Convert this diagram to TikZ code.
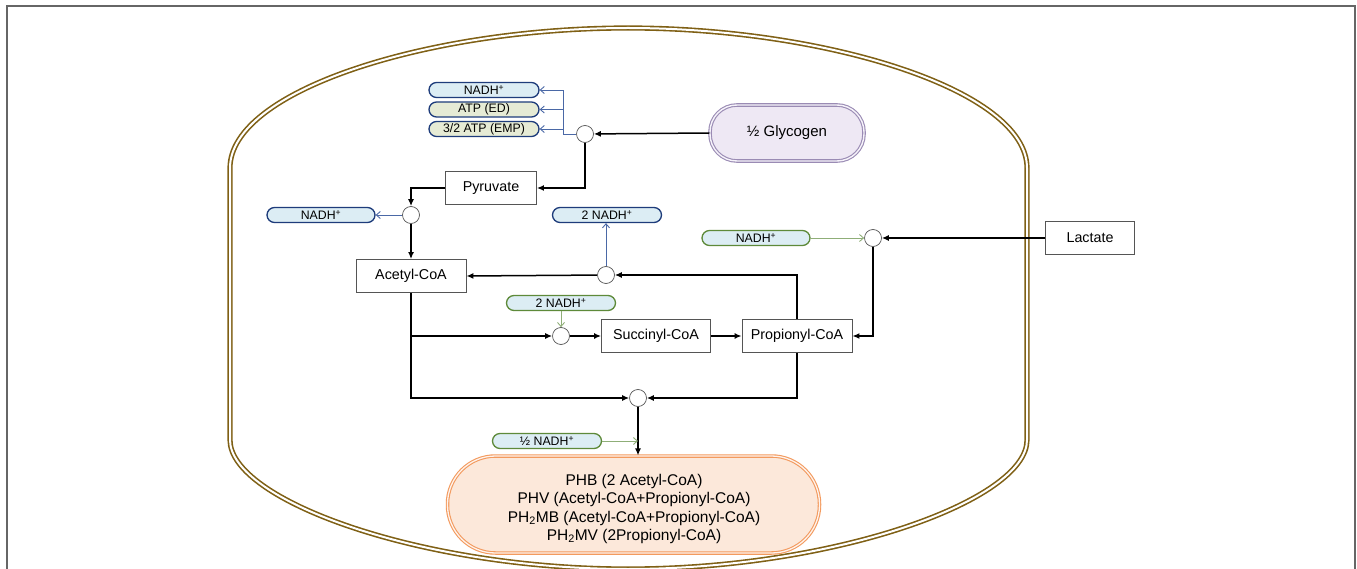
\documentclass[tikz,border=0pt]{standalone}
\usepackage{fontspec}
\setmainfont{Liberation Sans}
\usetikzlibrary{arrows.meta}
\definecolor{cellbrown}{HTML}{7F6015}
\definecolor{boxgray}{HTML}{555555}
\definecolor{pillblue}{HTML}{DCEDF4}
\definecolor{pillkhaki}{HTML}{E6EBD5}
\definecolor{navy}{HTML}{1E3C7B}
\definecolor{leaf}{HTML}{5E8A3A}
\definecolor{slate}{HTML}{4A68A6}
\definecolor{sage}{HTML}{8FAE78}
\definecolor{lav}{HTML}{EEE8F4}
\definecolor{lavline}{HTML}{9A8BB4}
\definecolor{peach}{HTML}{FCE8DA}
\definecolor{orng}{HTML}{F39A5E}
\tikzset{
  stepbox/.style={draw=boxgray, fill=white, line width=0.8pt, inner sep=0pt,
    minimum height=33pt, font=\fontsize{14.3}{16}\selectfont},
  pill/.style={rounded corners=7.5pt, line width=1.3pt, inner sep=0pt,
    minimum height=15pt, font=\fontsize{12.3}{13}\selectfont},
  bpill/.style={pill, draw=navy, fill=pillblue},
  kpill/.style={pill, draw=navy, fill=pillkhaki},
  gpill/.style={pill, draw=leaf, fill=pillblue},
  junc/.style={circle, draw=boxgray, fill=white, line width=0.7pt, minimum size=17pt, inner sep=0pt},
  arr/.style={line width=1.5pt, -{Latex[length=7pt,width=6pt]}},
  barr/.style={draw=slate, line width=0.9pt, -{Straight Barb[length=4pt,width=7pt]}},
  bline/.style={draw=slate, line width=0.9pt},
  garr/.style={draw=sage, line width=0.9pt, -{Straight Barb[length=4pt,width=7pt]}},
}
\begin{document}
\begin{tikzpicture}[x=1pt,y=-1pt]
\useasboundingbox (0,0) rectangle (1357,569);
% frame
\draw[draw=gray!80!black, line width=1.6pt] (7,580) -- (7,6) -- (1355,6) -- (1355,580);
% cell
\draw[draw=cellbrown, line width=1.6pt, double=white, double distance=2pt]
  (628,28) .. controls (430,28) and (230,90) .. (230,168)
  -- (230,440) .. controls (230,500) and (420,569) .. (628,569)
  .. controls (836,569) and (1027,500) .. (1027,440)
  -- (1027,168) .. controls (1027,90) and (826,28) .. (628,28) -- cycle;
% nodes
\node[draw=lavline, fill=lav, line width=1.1pt, double=lav!50!white, double distance=1.4pt,
  rounded corners=27pt, minimum width=154pt, minimum height=56pt, inner sep=0pt,
  font=\fontsize{15}{17}\selectfont] (gly) at (787,133) {½ Glycogen};
\node[junc] (c1) at (585,134) {};
\node[bpill, minimum width=110pt] (p1) at (484,90) {NADH\textsuperscript{+}};
\node[kpill, minimum width=110pt] (p2) at (484,109.5) {ATP (ED)};
\node[kpill, minimum width=110pt] (p3) at (484,129) {3/2 ATP (EMP)};
\node[stepbox, minimum width=91pt] (pyr) at (491,188) {Pyruvate};
\node[junc] (c2) at (411,215) {};
\node[bpill, minimum width=108pt] (n2) at (321,215) {NADH\textsuperscript{+}};
\node[stepbox, minimum width=110pt] (ace) at (411,276) {Acetyl-CoA};
\node[junc] (c3) at (606,275) {};
\node[bpill, minimum width=109pt] (n3) at (607,215) {2 NADH\textsuperscript{+}};
\node[stepbox, minimum width=89pt] (lac) at (1090,238) {Lactate};
\node[junc] (c4) at (873,238) {};
\node[gpill, minimum width=108pt] (n4) at (756,238) {NADH\textsuperscript{+}};
\node[stepbox, minimum width=109pt] (succ) at (656,336) {Succinyl-CoA};
\node[stepbox, minimum width=110pt] (prop) at (797,336) {Propionyl-CoA};
\node[junc] (c5) at (561,336) {};
\node[gpill, minimum width=109pt] (n5) at (561,303) {2 NADH\textsuperscript{+}};
\node[junc] (c6) at (638,398) {};
\node[gpill, minimum width=109pt] (n6) at (547,441) {½ NADH\textsuperscript{+}};
\node[draw=orng, fill=peach, line width=1.1pt, double=peach!50!white, double distance=1.3pt,
  rounded corners=48pt, minimum width=372pt, minimum height=97pt, inner sep=0pt] (phb) at (633.5,504.5) {};
\node[align=center, inner sep=0pt, font=\fontsize{15.5}{18.2}\selectfont] (phbtext) at (634,509)
  {PHB (2 Acetyl-CoA)\\PHV (Acetyl-CoA+Propionyl-CoA)\\PH\textsubscript{2}MB (Acetyl-CoA+Propionyl-CoA)\\PH\textsubscript{2}MV (2Propionyl-CoA)};
% blue outputs from glycolysis
\coordinate (bj) at (563,134);
\coordinate (bj2) at (563,109.5);
\coordinate (bj3) at (563,129);
\draw[bline] (c1.west) -- (bj);
\draw[barr] (bj) |- (p1.east);
\draw[barr] (bj2) -- (p2.east);
\draw[barr] (bj3) -- (p3.east);
% main connectors
\draw[arr] (gly.west) -- (c1);
\draw[arr] (c1) |- (pyr.east);
\draw[arr] (pyr.west) -| (c2);
\draw[barr] (c2) -- (n2.east);
\draw[arr] (c2) -- (ace.north);
\draw[arr] (prop.north) |- (c3);
\draw[arr] (c3) -- (ace.east);
\draw[barr] (c3) -- (n3.south -| c3);
\draw[arr] (lac.west) -- (c4);
\draw[garr] (n4.east) -- (c4);
\draw[arr] (c4) |- (prop.east);
\draw[arr] (ace.south) |- (c6);
\coordinate (ab) at (ace.south |- c5);
\draw[arr] (ab) -- (c5);
\draw[garr] (n5.south -| c5) -- (c5);
\draw[arr] (c5) -- (succ.west);
\draw[arr] (succ.east) -- (prop.west);
\draw[arr] (prop.south) |- (c6);
\draw[arr] (c6) -- (c6 |- phb.north);
\draw[garr] (n6.east) -- (n6.east -| c6);
\end{tikzpicture}
\end{document}
